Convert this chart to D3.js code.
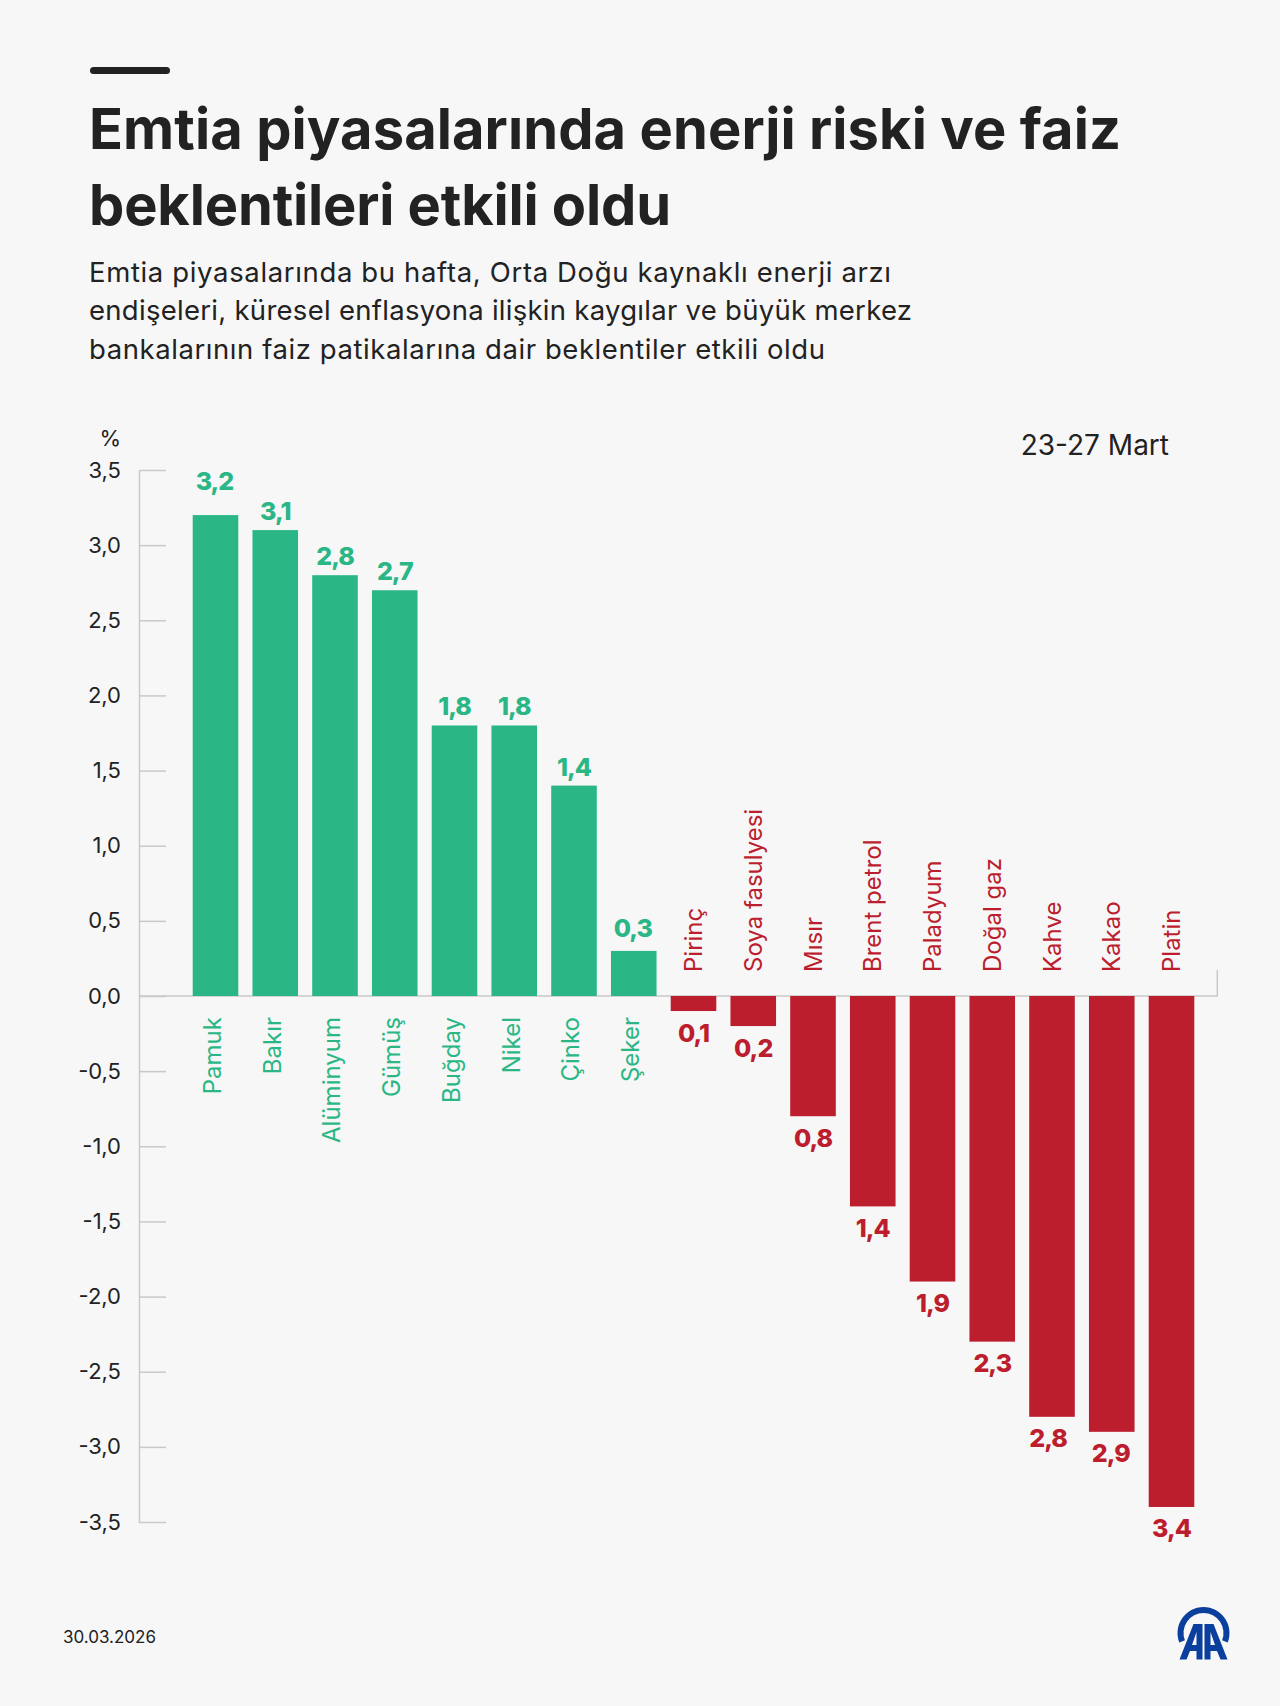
<!DOCTYPE html>
<html>
<head>
<meta charset="utf-8">
<script src="https://cdn.jsdelivr.net/npm/d3@7"></script>
<style>
  html, body { margin: 0; padding: 0; background: #f7f7f8; }
  svg { display: block; }
  text { font-family: Inter, sans-serif; }
</style>
</head>
<body>
<div id="chart"></div>
<script>
const titleLines = ["Emtia piyasalarında enerji riski ve faiz", "beklentileri etkili oldu"];
const titleWidths = [1032, 582];
const subtitleLines = [
    "Emtia piyasalarında bu hafta, Orta Doğu kaynaklı enerji arzı",
    "endişeleri, küresel enflasyona ilişkin kaygılar ve büyük merkez",
    "bankalarının faiz patikalarına dair beklentiler etkili oldu"
];
const subtitleWidths = [802, 823, 736];
const categories = ["Pamuk", "Bakır", "Alüminyum", "Gümüş", "Buğday", "Nikel", "Çinko", "Şeker",
    "Pirinç", "Soya fasulyesi", "Mısır", "Brent petrol", "Paladyum", "Doğal gaz", "Kahve", "Kakao", "Platin"];
const changes = [3.2, 3.1, 2.8, 2.7, 1.8, 1.8, 1.4, 0.3, -0.1, -0.2, -0.8, -1.4, -1.9, -2.3, -2.8, -2.9, -3.4];
const yTicks = [3.5, 3, 2.5, 2, 1.5, 1, 0.5, 0, -0.5, -1, -1.5, -2, -2.5, -3, -3.5];
const period = "23-27 Mart";
const unit = "%";
const dateLabel = "30.03.2026";
// hand nudges where the source moved a value label off its usual spot
const labelNudge = { "Pamuk": [-1, -15], "Şeker": [-1, -4], "Kahve": [-4, 0], "Kakao": [-1, 0] };

const colorGreen = "#2ab785";
const colorRed = "#bc1e2e";
const colorText = "#222222";
const colorAxis = "#c9c9c9";
const colorLogo = "#0b3f9e";

const width = 1280, height = 1706;
const comma = v => d3.format(".1f")(v).replace(".", ",").replace("\u2212", "-");

const svg = d3.select("#chart").append("svg")
    .attr("width", width)
    .attr("height", height)
    .attr("viewBox", [0, 0, width, height]);

svg.append("rect").attr("width", width).attr("height", height).attr("fill", "#f7f7f8");

// Header
svg.append("rect")
    .attr("x", 90).attr("y", 67)
    .attr("width", 80).attr("height", 7).attr("rx", 3.5)
    .attr("fill", colorText);

svg.selectAll("text.title")
    .data(titleLines)
    .join("text")
    .attr("class", "title")
    .attr("x", 89)
    .attr("y", (d, i) => 149 + i * 76)
    .attr("font-size", 56)
    .attr("font-weight", 700)
    .attr("textLength", (d, i) => titleWidths[i])
    .attr("lengthAdjust", "spacing")
    .attr("fill", colorText)
    .text(d => d);

svg.selectAll("text.subtitle")
    .data(subtitleLines)
    .join("text")
    .attr("class", "subtitle")
    .attr("x", 89)
    .attr("y", (d, i) => 281.5 + i * 38.6)
    .attr("font-size", 27.5)
    .attr("textLength", (d, i) => subtitleWidths[i])
    .attr("lengthAdjust", "spacing")
    .attr("fill", colorText)
    .text(d => d);

// Scales
const x = d3.scaleBand()
    .domain(categories)
    .range([192.7, 1194.3])
    .paddingInner(0.237)
    .paddingOuter(0);

const y = d3.scaleLinear()
    .domain([-3.5, 3.5])
    .range([1522, 470]);

// Axes
const yAxis = d3.axisLeft(y)
    .tickValues(yTicks)
    .tickSizeInner(-27)
    .tickSizeOuter(0)
    .tickPadding(18)
    .tickFormat(comma);

const axisG = svg.append("g")
    .attr("transform", "translate(139,0)")
    .call(yAxis);

axisG.selectAll("path, line").attr("stroke", colorAxis).attr("stroke-width", 1.5);
axisG.selectAll("text")
    .attr("font-size", 22)
    .attr("font-family", "Inter, sans-serif")
    .attr("fill", colorText);

// baseline with the small hook on the right end
const baseRight = x(categories[categories.length - 1]) + x.bandwidth() + 23;
svg.append("path")
    .attr("d", d3.line()([[139, y(0)], [baseRight, y(0)], [baseRight, y(0) - 26]]))
    .attr("fill", "none")
    .attr("stroke", colorAxis)
    .attr("stroke-width", 1.5);

svg.append("text")
    .attr("x", 121).attr("y", 446)
    .attr("text-anchor", "end")
    .attr("font-size", 22)
    .attr("fill", colorText)
    .text(unit);

svg.append("text")
    .attr("x", 1169).attr("y", 455)
    .attr("text-anchor", "end")
    .attr("font-size", 28)
    .attr("fill", colorText)
    .text(period);

// Bars
const rows = categories.map((name, i) => ({ name, value: changes[i] }));
const rowColor = d => d.value >= 0 ? colorGreen : colorRed;

svg.append("g")
    .selectAll("rect")
    .data(rows)
    .join("rect")
    .attr("x", d => x(d.name))
    .attr("y", d => y(Math.max(d.value, 0)))
    .attr("width", x.bandwidth())
    .attr("height", d => Math.abs(y(d.value) - y(0)))
    .attr("fill", rowColor);

// Value labels
const nudge = (d, i) => (labelNudge[d.name] || [0, 0])[i];

svg.append("g")
    .selectAll("text")
    .data(rows)
    .join("text")
    .attr("x", d => x(d.name) + x.bandwidth() / 2 + nudge(d, 0))
    .attr("y", d => (d.value >= 0 ? y(d.value) - 10 : y(d.value) + 30.5) + nudge(d, 1))
    .attr("text-anchor", "middle")
    .attr("font-size", 25)
    .attr("font-weight", 800)
    .attr("letter-spacing", -1)
    .attr("fill", rowColor)
    .text(d => comma(Math.abs(d.value)));

// Category labels, above the line for falls and below it for rises
svg.append("g")
    .selectAll("text")
    .data(rows)
    .join("text")
    .attr("transform", d => {
        const cx = x(d.name) + x.bandwidth() / 2;
        return d.value >= 0
            ? `translate(${cx + 5.3},${y(0) + 21}) rotate(-90)`
            : `translate(${cx + 8.7},${y(0) - 24}) rotate(-90)`;
    })
    .attr("text-anchor", d => d.value >= 0 ? "end" : "start")
    .attr("font-size", 24)
    .attr("fill", rowColor)
    .text(d => d.name);

// Footer
svg.append("text")
    .attr("x", 63).attr("y", 1643)
    .attr("font-size", 17)
    .attr("fill", colorText)
    .text(dateLabel);

// AA logo
const logo = svg.append("g")
    .attr("transform", "translate(1203.5,1633)")
    .attr("fill", colorLogo);

logo.append("path")
    .attr("d", d3.arc()
        .innerRadius(20)
        .outerRadius(26)
        .startAngle(-Math.PI * 0.62)
        .endAngle(Math.PI * 0.62)());

const letterA = "M-24,26.5 L-10,-9 L-1,-9 L-1,26.5 L-7,26.5 L-7,18 L-13.5,18 L-17,26.5 Z M-11.5,12 L-7,12 L-7,-1 Z";
logo.append("path").attr("d", letterA).attr("fill-rule", "evenodd");
logo.append("path").attr("d", letterA).attr("fill-rule", "evenodd").attr("transform", "scale(-1,1)");
</script>
</body>
</html>
